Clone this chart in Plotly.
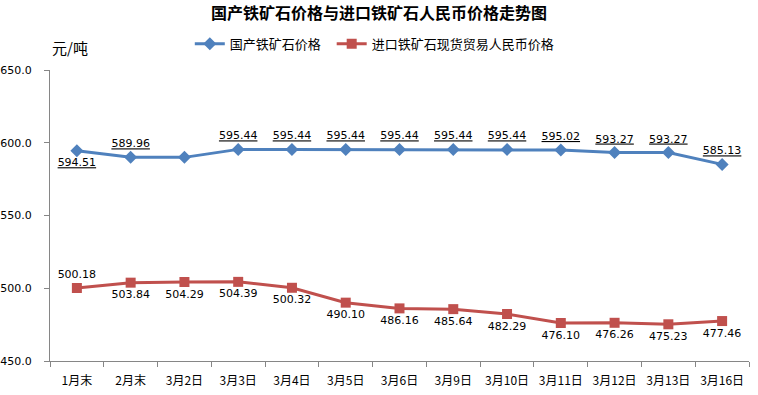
import plotly.graph_objects as go

categories = ["1月末", "2月末", "3月2日", "3月3日", "3月4日", "3月5日", "3月6日",
              "3月9日", "3月10日", "3月11日", "3月12日", "3月13日", "3月16日"]
domestic = [594.51, 589.96, 589.96, 595.44, 595.44, 595.44, 595.44,
            595.44, 595.44, 595.02, 593.27, 593.27, 585.13]
domestic_labels = ["594.51", "589.96", "", "595.44", "595.44", "595.44", "595.44",
                   "595.44", "595.44", "595.02", "593.27", "593.27", "585.13"]
domestic_pos = ["bottom center"] + ["top center"] * 12
imported = [500.18, 503.84, 504.29, 504.39, 500.32, 490.10, 486.16,
            485.64, 482.29, 476.10, 476.26, 475.23, 477.46]
imported_labels = [f"{v:.2f}" for v in imported]
imported_pos = ["top center"] + ["bottom center"] * 12

series_names = ["国产铁矿石价格", "进口铁矿石现货贸易人民币价格"]
title = "国产铁矿石价格与进口铁矿石人民币价格走势图"
unit = "元/吨"

BLUE = "#4F81BD"
RED = "#C0504D"
CJK = "Noto Sans CJK SC"

fig = go.Figure()
fig.add_trace(go.Scatter(
    x=categories, y=domestic, name=series_names[0], mode="lines+markers+text",
    line=dict(color=BLUE, width=3),
    marker=dict(symbol="diamond", size=10, color=BLUE),
    text=domestic_labels, textposition=domestic_pos,
    textfont=dict(family="DejaVu Sans", size=11, color="black", lineposition="under"),
    legend="legend",
))
fig.add_trace(go.Scatter(
    x=categories, y=imported, name=series_names[1], mode="lines+markers+text",
    line=dict(color=RED, width=3),
    marker=dict(symbol="square", size=10, color=RED),
    text=imported_labels, textposition=imported_pos,
    textfont=dict(family="DejaVu Sans", size=11, color="black"),
    legend="legend2",
))

legend_common = dict(orientation="h", xanchor="left", y=1.09, yanchor="middle",
                     font=dict(family=CJK, size=13, color="black"),
                     itemwidth=30, bgcolor="rgba(0,0,0,0)")

fig.update_layout(
    width=758, height=395,
    margin=dict(l=50, r=9, t=70, b=34),
    paper_bgcolor="white", plot_bgcolor="white",
    title=dict(text="<b>" + title + "</b>", x=0.5, xanchor="center", y=0.965, yanchor="middle",
               font=dict(family=CJK, size=16, color="black")),
    legend=dict(x=0.2, **legend_common),
    legend2=dict(x=0.403, **legend_common),
    showlegend=True,
)
fig.update_xaxes(
    type="category", showline=True, linecolor="#868686", linewidth=1,
    ticks="outside", tickson="boundaries", ticklen=5, tickcolor="#868686",
    showgrid=False, tickfont=dict(family=CJK, size=12, color="black"),
    ticklabelstandoff=9, automargin=False,
    range=[-0.5, len(categories) - 0.5],
)
fig.update_yaxes(
    range=[450, 650], dtick=50, tickformat=".1f", showline=True, linecolor="#868686",
    linewidth=1, ticks="outside", ticklen=5, tickcolor="#868686", showgrid=False,
    zeroline=False, tickfont=dict(family="DejaVu Sans", size=11, color="black"),
    ticklabelstandoff=10, automargin=False,
)
fig.add_annotation(text=unit, xref="paper", yref="paper", x=0, y=1.076,
                   xanchor="left", yanchor="middle", showarrow=False,
                   font=dict(family=CJK, size=15, color="black"))

fig.write_html("out.html", config={"displayModeBar": False},
               post_script="document.body.style.margin='0';")
